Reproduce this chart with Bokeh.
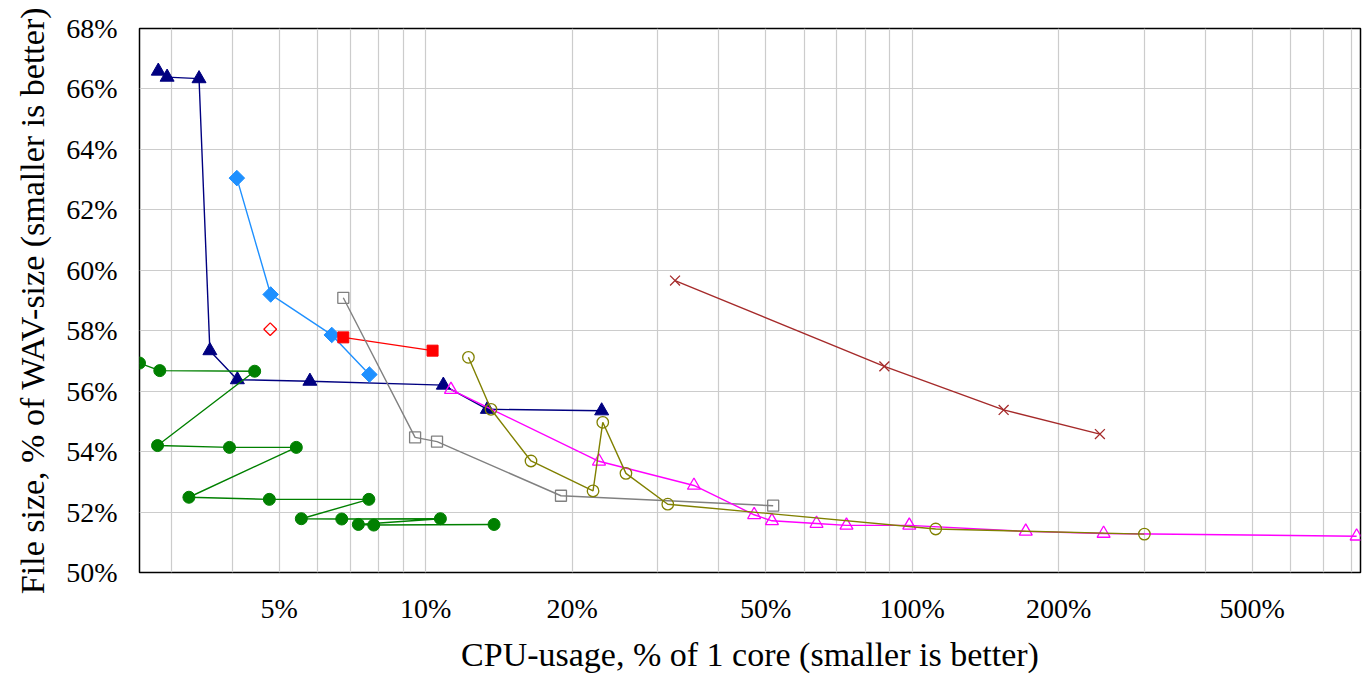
import numpy as np
from bokeh.plotting import figure
from bokeh.models import FixedTicker, CustomJSTickFormatter, Range1d
from bokeh.embed import file_html
from bokeh.resources import INLINE

# ---- data (CPU usage in % of one core, file size in % of WAV size) ----
navy_x = [2.82, 2.94, 3.42, 3.60, 4.10, 5.78, 10.87, 13.39, 23.0]
navy_y = [66.59, 66.39, 66.34, 57.34, 56.38, 56.33, 56.20, 55.40, 55.35]

dblue_x = [4.09, 4.80, 6.41, 7.66]
dblue_y = [63.05, 59.20, 57.86, 56.55]

reddia_x = [4.79]
reddia_y = [58.05]

redsq_x = [6.77, 10.33]
redsq_y = [57.78, 57.34]

green_x = [2.58, 2.84, 4.45, 2.81, 3.95, 5.42, 3.26, 4.77, 7.64, 5.55, 6.72, 10.72, 7.27, 7.82, 13.82]
green_y = [56.93, 56.68, 56.66, 54.20, 54.14, 54.14, 52.49, 52.42, 52.42, 51.78, 51.77, 51.78, 51.59, 51.57, 51.59]

gray_x = [6.77, 9.51, 10.55, 18.97, 51.80]
gray_y = [59.09, 54.47, 54.33, 52.54, 52.21]

olive_x = [12.24, 13.62, 16.46, 22.08, 23.12, 25.80, 31.45, 111.8, 300.2]
olive_y = [57.12, 55.40, 53.69, 52.70, 54.97, 53.28, 52.26, 51.44, 51.27]

mag_x = [11.27, 22.71, 35.60, 47.34, 51.49, 63.59, 73.28, 98.65, 171.2, 247.5, 819.8]
mag_y = [56.05, 53.68, 52.88, 51.91, 51.71, 51.62, 51.56, 51.56, 51.36, 51.29, 51.20]

brown_x = [32.55, 87.67, 154.2, 243.2]
brown_y = [59.66, 56.82, 55.38, 54.58]

x_major = [5, 10, 20, 50, 100, 200, 500]
x_minor = [3, 4, 6, 7, 8, 9, 30, 40, 60, 70, 80, 90, 300, 400, 600, 700, 800]
y_ticks = [50, 52, 54, 56, 58, 60, 62, 64, 66, 68]

FONT = "Liberation Serif"

p = figure(width=1362, height=675, x_axis_type="log",
           x_range=Range1d(2.58, 835), y_range=Range1d(50, 68),
           output_backend="svg", toolbar_location=None,
           min_border_left=139, min_border_right=2,
           min_border_top=28, min_border_bottom=99)

p.outline_line_color = "black"
p.outline_line_width = 1.5

p.xaxis.ticker = FixedTicker(ticks=x_major, minor_ticks=x_minor)
p.yaxis.ticker = FixedTicker(ticks=y_ticks)
p.xaxis.formatter = CustomJSTickFormatter(code="return tick + '%';")
p.yaxis.formatter = CustomJSTickFormatter(code="return tick + '%';")

for ax in (p.xaxis, p.yaxis):
    ax.axis_line_color = None
    ax.major_tick_line_color = None
    ax.minor_tick_line_color = None
    ax.major_tick_out = 0
    ax.minor_tick_out = 0
    ax.major_tick_in = 0
    ax.minor_tick_in = 0
    ax.major_label_text_font = FONT
    ax.major_label_text_font_size = "28px"
    ax.major_label_text_color = "black"
    ax.axis_label_text_font = FONT
    ax.axis_label_text_font_size = "34px"
    ax.axis_label_text_font_style = "normal"
    ax.axis_label_text_color = "black"

p.xaxis.axis_label = "CPU-usage, % of 1 core (smaller is better)"
p.yaxis.axis_label = "File size, % of WAV-size (smaller is better)"
p.xaxis.major_label_standoff = 20
p.xaxis.axis_label_standoff = 9
p.yaxis.major_label_standoff = 22
p.yaxis.axis_label_standoff = 12

p.grid.grid_line_color = "#cccccc"
p.grid.grid_line_width = 1.2
p.xgrid.minor_grid_line_color = "#cccccc"
p.xgrid.minor_grid_line_width = 1.2

LW = 1.4

# navy triangles
p.line(navy_x, navy_y, line_color="navy", line_width=LW)
p.scatter(navy_x, navy_y, marker="triangle", size=14, fill_color="navy", line_color="navy")

# dodger blue diamonds
p.line(dblue_x, dblue_y, line_color="#1E90FF", line_width=LW)
p.scatter(dblue_x, dblue_y, marker="square", angle=np.pi / 4, size=11,
          fill_color="#1E90FF", line_color="#1E90FF")

# red open diamond
p.scatter(reddia_x, reddia_y, marker="square", angle=np.pi / 4, size=9,
          fill_color=None, line_color="red", line_width=1.3)

# red filled squares
p.line(redsq_x, redsq_y, line_color="red", line_width=LW)
p.scatter(redsq_x, redsq_y, marker="square", size=11, fill_color="red", line_color="red")

# green circles
p.line(green_x, green_y, line_color="green", line_width=LW)
p.scatter(green_x, green_y, marker="circle", size=12, fill_color="green", line_color="green")

# gray open squares
p.line(gray_x, gray_y, line_color="gray", line_width=LW)
p.scatter(gray_x, gray_y, marker="square", size=11, fill_color=None,
          line_color="gray", line_width=1.3)

# magenta open triangles
p.line(mag_x, mag_y, line_color="magenta", line_width=LW)
p.scatter(mag_x, mag_y, marker="triangle", size=13, fill_color=None,
          line_color="magenta", line_width=1.3)

# olive open circles
p.line(olive_x, olive_y, line_color="olive", line_width=LW)
p.scatter(olive_x, olive_y, marker="circle", size=11.5, fill_color=None,
          line_color="olive", line_width=1.3)

# brown crosses
p.line(brown_x, brown_y, line_color="brown", line_width=LW)
p.scatter(brown_x, brown_y, marker="x", size=14, line_color="brown", line_width=1.3)

open("out.html", "w").write(file_html(p, INLINE))
